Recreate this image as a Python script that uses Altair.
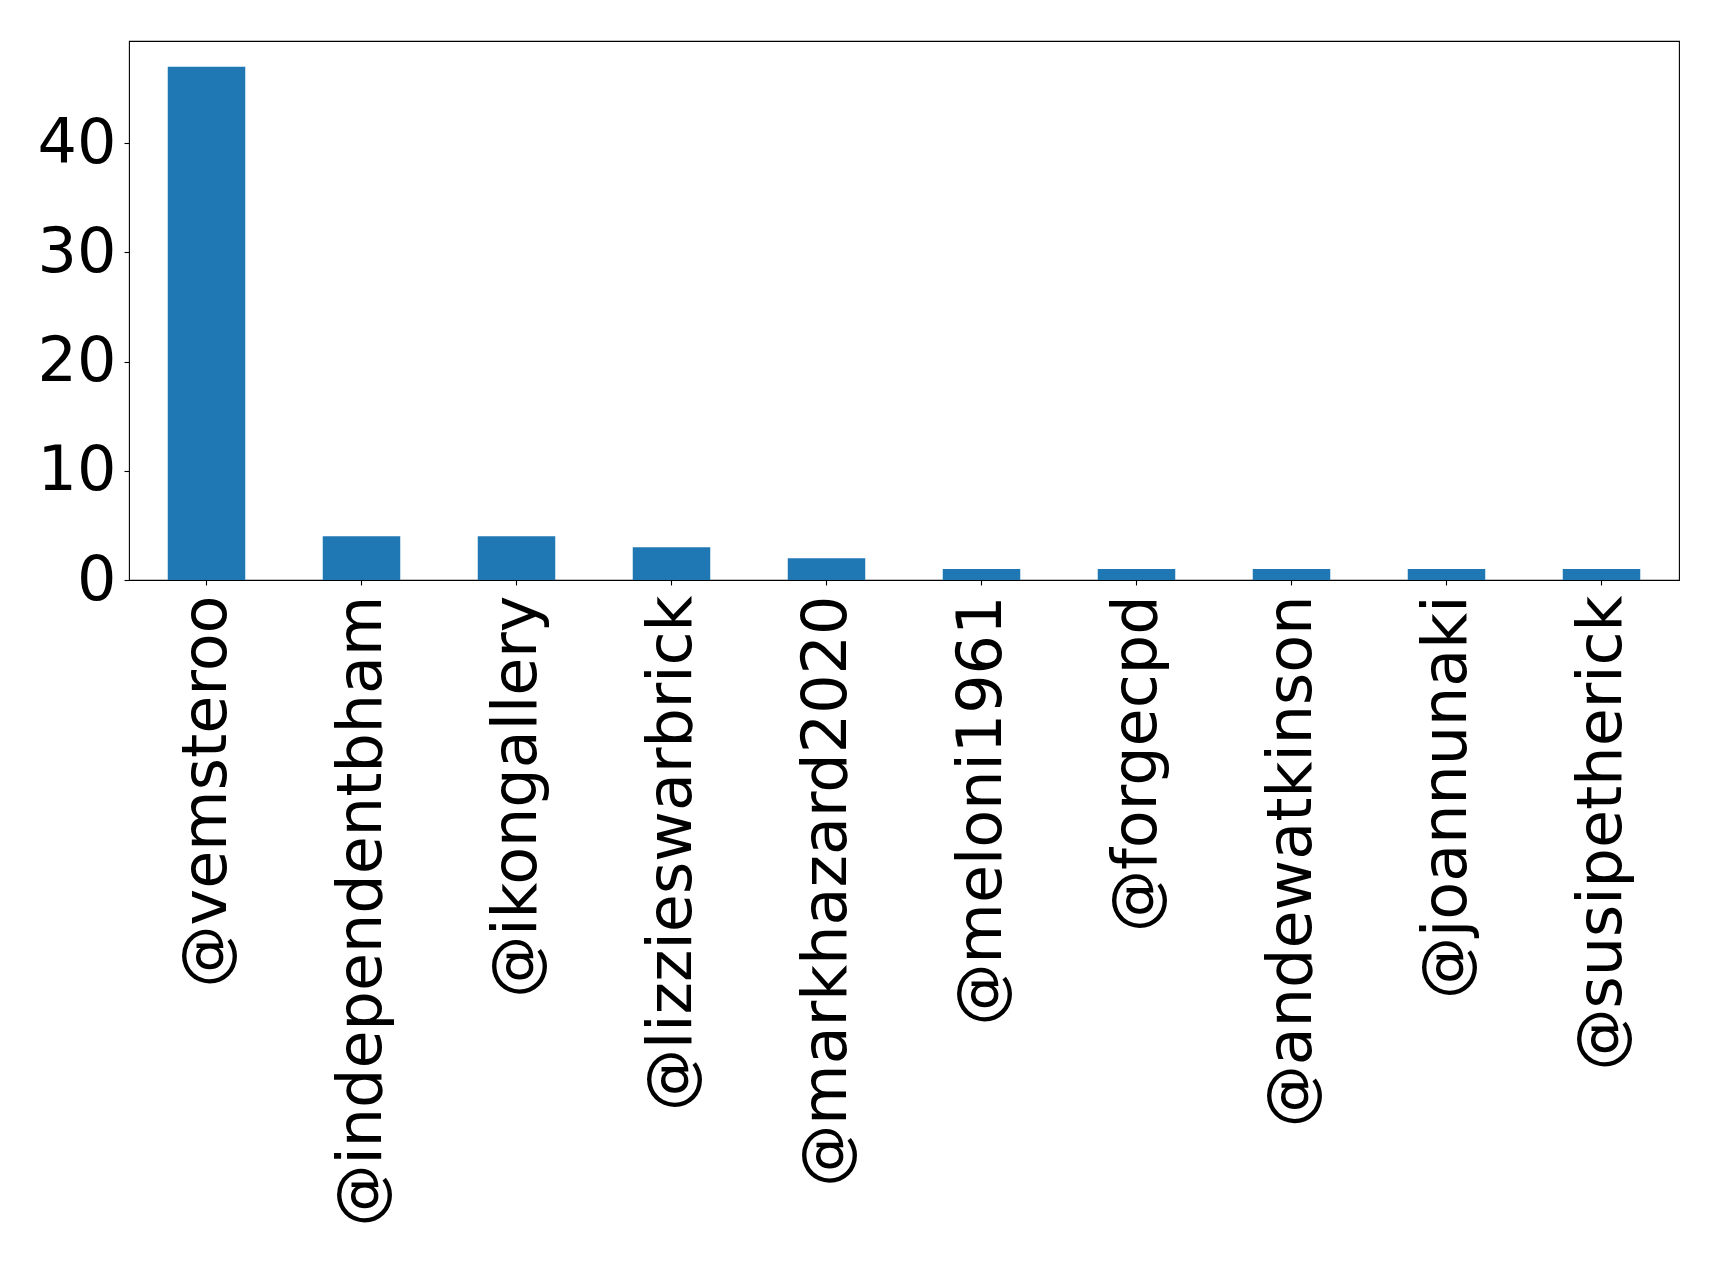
import altair as alt
import pandas as pd

handles = ["@vemsteroo", "@independentbham", "@ikongallery", "@lizzieswarbrick",
           "@markhazard2020", "@meloni1961", "@forgecpd", "@andewatkinson",
           "@joannunaki", "@susipetherick"]
counts = [47, 4, 4, 3, 2, 1, 1, 1, 1, 1]

df = pd.DataFrame({"handle": handles, "count": counts})

FONT = "DejaVu Sans"
FS = 62

chart = alt.Chart(df).mark_bar(color="#1f77b4").encode(
    x=alt.X("handle:N", sort=handles, title=None,
            scale=alt.Scale(paddingInner=0.5, paddingOuter=0.25),
            axis=alt.Axis(labelAngle=270, labelAlign="right", labelBaseline="middle",
                          labelFont=FONT, labelFontSize=FS, labelColor="black",
                          labelPadding=10, tickSize=5, tickColor="black", tickWidth=1.1,
                          domain=False, labelOverlap=False, labelLimit=0)),
    y=alt.Y("count:Q", title=None,
            scale=alt.Scale(domain=[0, 49.35], nice=False, zero=True),
            axis=alt.Axis(values=[0, 10, 20, 30, 40], labelFont=FONT, labelFontSize=FS,
                          labelColor="black", labelPadding=8, tickSize=5,
                          tickColor="black", tickWidth=1.1, domain=False, grid=False,
                          labelOverlap=False, labelFlush=False)),
).properties(
    width=1550, height=539,
    autosize=alt.AutoSizeParams(type="none"),
    padding={"left": 121, "top": 33, "right": 30, "bottom": 660},
).configure(
    background="white",
    view=alt.ViewConfig(stroke="black", strokeWidth=1.1),
)

chart.save("out.html", embed_options={"renderer": "svg", "actions": False})
